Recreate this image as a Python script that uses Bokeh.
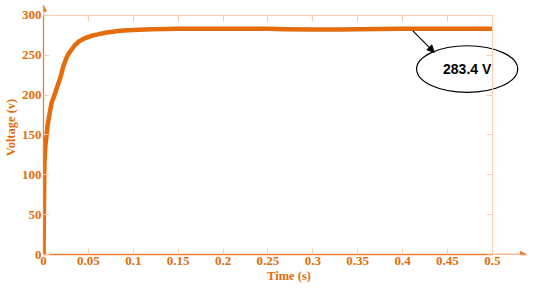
from bokeh.plotting import figure
from bokeh.models import (LinearAxis, FixedTicker, Arrow, NormalHead, Label,
                          CustomJSTickFormatter)
from bokeh.embed import file_html
from bokeh.resources import INLINE

# ---- data ----
time_s = [0, 0.0005, 0.001, 0.002, 0.0036, 0.0047, 0.0065, 0.009, 0.012, 0.0155,
          0.019, 0.0217, 0.025, 0.028, 0.032, 0.035, 0.039, 0.044, 0.05, 0.055,
          0.0606, 0.065, 0.071, 0.085, 0.1, 0.12, 0.15, 0.2, 0.25, 0.27, 0.3,
          0.33, 0.35, 0.4, 0.45, 0.5]
voltage_v = [0, 60, 115, 135, 151, 163, 175, 190, 199, 211,
             222.6, 234.5, 245, 252, 258, 262.5, 266.7, 270, 272.8, 274.6,
             276, 277.2, 278.5, 280.5, 281.5, 282.5, 283, 283, 283, 282.5, 282,
             282, 282.5, 283, 283, 283]

x_ticks = [0, 0.05, 0.1, 0.15, 0.2, 0.25, 0.3, 0.35, 0.4, 0.45, 0.5]
x_tick_labels = ["0", "0.05", "0.1", "0.15", "0.2", "0.25", "0.3", "0.35", "0.4", "0.45", "0.5"]
y_ticks = [0, 50, 100, 150, 200, 250, 300]
y_tick_labels = ["0", "50", "100", "150", "200", "250", "300"]
x_title = "Time (s)"
y_title = "Voltage (v)"

annot_text = "283.4 V"
annot_center = (0.472, 232.5)
annot_size = (0.1127, 58.5)
annot_arrow = ((0.4115, 280.5), (0.4353, 253.5))

LINE = "#E46C0A"
AXIS = "#ED7D31"
LIGHT = "#F8CBAD"
TEXT = "#E46C0A"

X_END = 0.547
Y_END = 318.5
X_ARROW_TIP = 0.538
Y_ARROW_TIP = 312.5

p = figure(width=534, height=285, x_range=(0, X_END), y_range=(0, Y_END),
           output_backend="svg", toolbar_location=None,
           min_border_left=36, min_border_right=0, min_border_top=0,
           min_border_bottom=25, x_axis_label=x_title, y_axis_label=y_title)
p.outline_line_color = None
p.grid.visible = False

p.line(time_s, voltage_v, line_color=LINE, line_width=4.5, line_join="round")

def style_axis(ax, color):
    ax.axis_line_color = color
    ax.major_tick_line_color = LIGHT
    ax.minor_tick_line_color = None
    ax.minor_tick_in = 0
    ax.minor_tick_out = 0
    ax.major_tick_in = 6
    ax.major_tick_out = 0
    ax.major_label_text_color = TEXT
    ax.major_label_text_font = "Liberation Serif"
    ax.major_label_text_font_style = "bold"
    ax.major_label_text_font_size = "13px"
    ax.major_label_standoff = 2
    ax.axis_label_text_color = TEXT
    ax.axis_label_text_font = "Liberation Serif"
    ax.axis_label_text_font_style = "bold"
    ax.axis_label_text_font_size = "12.5px"
    ax.axis_label_standoff = 1

xa = p.xaxis[0]
ya = p.yaxis[0]
style_axis(xa, AXIS)
style_axis(ya, AXIS)
xa.ticker = FixedTicker(ticks=x_ticks)
xa.major_label_overrides = dict(zip(x_ticks, x_tick_labels))
xa.bounds = (x_ticks[0], x_ticks[-1])
ya.ticker = FixedTicker(ticks=y_ticks)
ya.major_label_overrides = dict(zip(y_ticks, y_tick_labels))
ya.bounds = (y_ticks[0], y_ticks[-1])
xa.axis_line_width = 1.3
ya.axis_line_width = 1.3

empty = CustomJSTickFormatter(code="return ''")
top = LinearAxis(ticker=FixedTicker(ticks=x_ticks), formatter=empty,
                 fixed_location=y_ticks[-1], bounds=(x_ticks[0], x_ticks[-1]))
right = LinearAxis(ticker=FixedTicker(ticks=y_ticks), formatter=empty,
                   fixed_location=x_ticks[-1], bounds=(y_ticks[0], y_ticks[-1]))
for ax in (top, right):
    style_axis(ax, LIGHT)
    ax.major_label_text_font_size = "1px"
    ax.major_label_standoff = 0
p.add_layout(top, "above")
p.add_layout(right, "right")

# axis arrow heads
p.add_layout(Arrow(x_start=0, y_start=y_ticks[-1], x_end=0, y_end=Y_ARROW_TIP,
                   line_color=AXIS, line_width=1.3,
                   end=NormalHead(size=6, fill_color=AXIS, line_color=AXIS)))
p.add_layout(Arrow(x_start=x_ticks[-1], y_start=0, x_end=X_ARROW_TIP, y_end=0,
                   line_color=AXIS, line_width=1.3,
                   end=NormalHead(size=6, fill_color=AXIS, line_color=AXIS)))

# annotation: ellipse + arrow + text
(ax0, ay0), (ax1, ay1) = annot_arrow
p.ellipse(x=[annot_center[0]], y=[annot_center[1]], width=annot_size[0],
          height=annot_size[1], fill_color="white", line_color="black",
          line_width=1.2)
p.add_layout(Arrow(x_start=ax0, y_start=ay0, x_end=ax1, y_end=ay1,
                   line_color="black", line_width=1.2,
                   end=NormalHead(size=7, fill_color="black", line_color="black")))
p.add_layout(Label(x=annot_center[0], y=annot_center[1], text=annot_text,
                   text_align="center", text_baseline="middle",
                   text_font="Liberation Sans", text_font_style="bold",
                   text_font_size="14px", text_color="black"))

open("out.html", "w").write(file_html(p, INLINE))
